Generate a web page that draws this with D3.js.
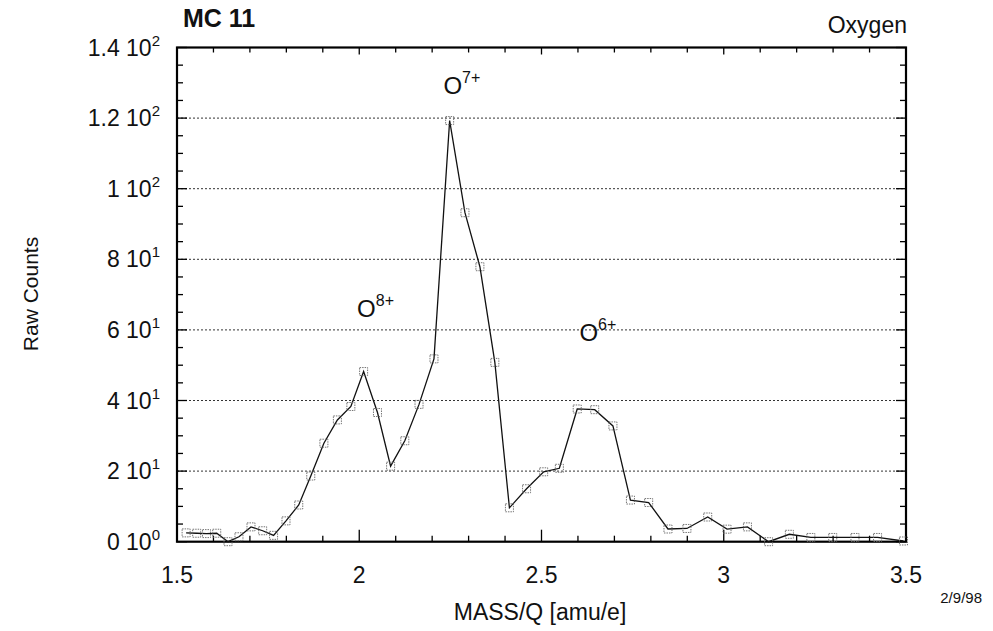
<!DOCTYPE html>
<html><head><meta charset="utf-8">
<script src="https://cdn.jsdelivr.net/npm/d3@7"></script>
<style>
body{margin:0;background:#fff;}
text{font-family:"Liberation Sans",Arial,Helvetica,sans-serif;fill:#111;}
</style></head>
<body><svg id="c" width="993" height="631"></svg>
<script>
const massQ = [1.525,1.554,1.581,1.609,1.640,1.670,1.703,1.735,1.765,1.799,1.834,1.867,1.903,1.940,1.977,2.012,2.050,2.086,2.125,2.164,2.205,2.248,2.290,2.331,2.372,2.412,2.459,2.506,2.549,2.598,2.646,2.696,2.744,2.794,2.847,2.899,2.956,3.009,3.065,3.123,3.180,3.239,3.299,3.360,3.422,3.493];
const counts = [2.5,2.4,2.3,2.4,0,1.4,4.2,3.1,1.8,5.9,10.4,18.6,27.9,34.5,38.3,48.2,36.6,21.4,28.6,38.9,51.8,119.3,93.2,77.9,50.8,9.6,15.0,19.8,20.8,37.6,37.4,32.8,11.8,11.1,3.6,3.75,7.0,3.55,4.2,0,2.1,1.2,1.2,1.2,1.2,0.2];
const xTicks = [1.5,2,2.5,3,3.5];
const xTickLabels = ["1.5","2","2.5","3","3.5"];
const yTicks = [0,20,40,60,80,100,120,140];
const yMantissa = ["0","2","4","6","8","1","1.2","1.4"];
const yExponent = ["0","1","1","1","1","2","2","2"];
const gridValues = [20,40,60,80,100,120];
const peakIon = ["O","O","O"];
const peakCharge = ["8+","7+","6+"];
const peakX = [1.994,2.231,2.604];
const peakY = [63.7,126.9,56.9];

const svg = d3.select("#c");
const L=177, R=906, T=47.5, B=541.7;
const x = d3.scaleLinear().domain([1.5,3.5]).range([L,R]);
const y = d3.scaleLinear().domain([0,140]).range([B,T]);

svg.append("g").selectAll("line").data(gridValues).join("line")
  .attr("x1",L).attr("x2",R).attr("y1",d=>y(d)).attr("y2",d=>y(d))
  .attr("stroke","#333").attr("stroke-width",1).attr("stroke-dasharray","2,2");

const xMinor = d3.range(1.5,3.5001,0.1);
const yMinor = d3.range(0,140.001,5);
const tk = svg.append("g").attr("stroke","#000").attr("stroke-width",1.3);
xMinor.forEach(v=>{
  const major = Math.abs(v*2-Math.round(v*2))<1e-6;
  const len = major?12:6;
  tk.append("line").attr("x1",x(v)).attr("x2",x(v)).attr("y1",B).attr("y2",B-len);
  tk.append("line").attr("x1",x(v)).attr("x2",x(v)).attr("y1",T).attr("y2",T+(major?7:5));
});
yMinor.forEach(v=>{
  const major = Math.abs(v/20-Math.round(v/20))<1e-6;
  const len = major?10:6;
  tk.append("line").attr("y1",y(v)).attr("y2",y(v)).attr("x1",L).attr("x2",L+len);
  tk.append("line").attr("y1",y(v)).attr("y2",y(v)).attr("x1",R).attr("x2",R-len);
});

svg.append("rect").attr("x",L).attr("y",T).attr("width",R-L).attr("height",B-T)
  .attr("fill","none").attr("stroke","#000").attr("stroke-width",2.2);

const pts = massQ.map((m,i)=>[m,counts[i]]);
svg.append("path").datum(pts)
  .attr("d",d3.line().x(d=>x(d[0])).y(d=>y(d[1])))
  .attr("fill","none").attr("stroke","#111").attr("stroke-width",1.3);
svg.append("g").selectAll("rect").data(pts).join("rect")
  .attr("x",d=>x(d[0])-4).attr("y",d=>y(d[1])-4).attr("width",8).attr("height",8)
  .attr("fill","none").attr("stroke","#666").attr("stroke-width",0.9).attr("stroke-dasharray","1.5,1");

svg.append("g").selectAll("text").data(xTicks).join("text")
  .attr("x",d=>x(d)).attr("y",B+41).attr("text-anchor","middle")
  .attr("font-size",23).text((d,i)=>xTickLabels[i]);

const yl = svg.append("g");
yTicks.forEach((v,i)=>{
  const t = yl.append("text").attr("x",L-17).attr("y",y(v)+8).attr("text-anchor","end").attr("font-size",23);
  t.append("tspan").text(yMantissa[i]+" 10");
  t.append("tspan").attr("dy",-10).attr("font-size",15).text(yExponent[i]);
});

peakX.forEach((px,i)=>{
  const t = svg.append("text").attr("x",x(px)).attr("y",y(peakY[i])).attr("font-size",24);
  t.append("tspan").text(peakIon[i]);
  t.append("tspan").attr("dy",-11).attr("font-size",16).text(peakCharge[i]);
});

svg.append("text").attr("x",183).attr("y",27).attr("font-size",25).attr("font-weight","bold").text("MC  11");
svg.append("text").attr("x",907).attr("y",33).attr("text-anchor","end").attr("font-size",23).text("Oxygen");
svg.append("text").attr("x",540).attr("y",620).attr("text-anchor","middle").attr("font-size",23).text("MASS/Q [amu/e]");
svg.append("text").attr("transform","translate(38,294) rotate(-90)").attr("text-anchor","middle").attr("font-size",21).text("Raw Counts");
svg.append("text").attr("x",982).attr("y",603).attr("text-anchor","end").attr("font-size",15).text("2/9/98");
</script></body></html>
